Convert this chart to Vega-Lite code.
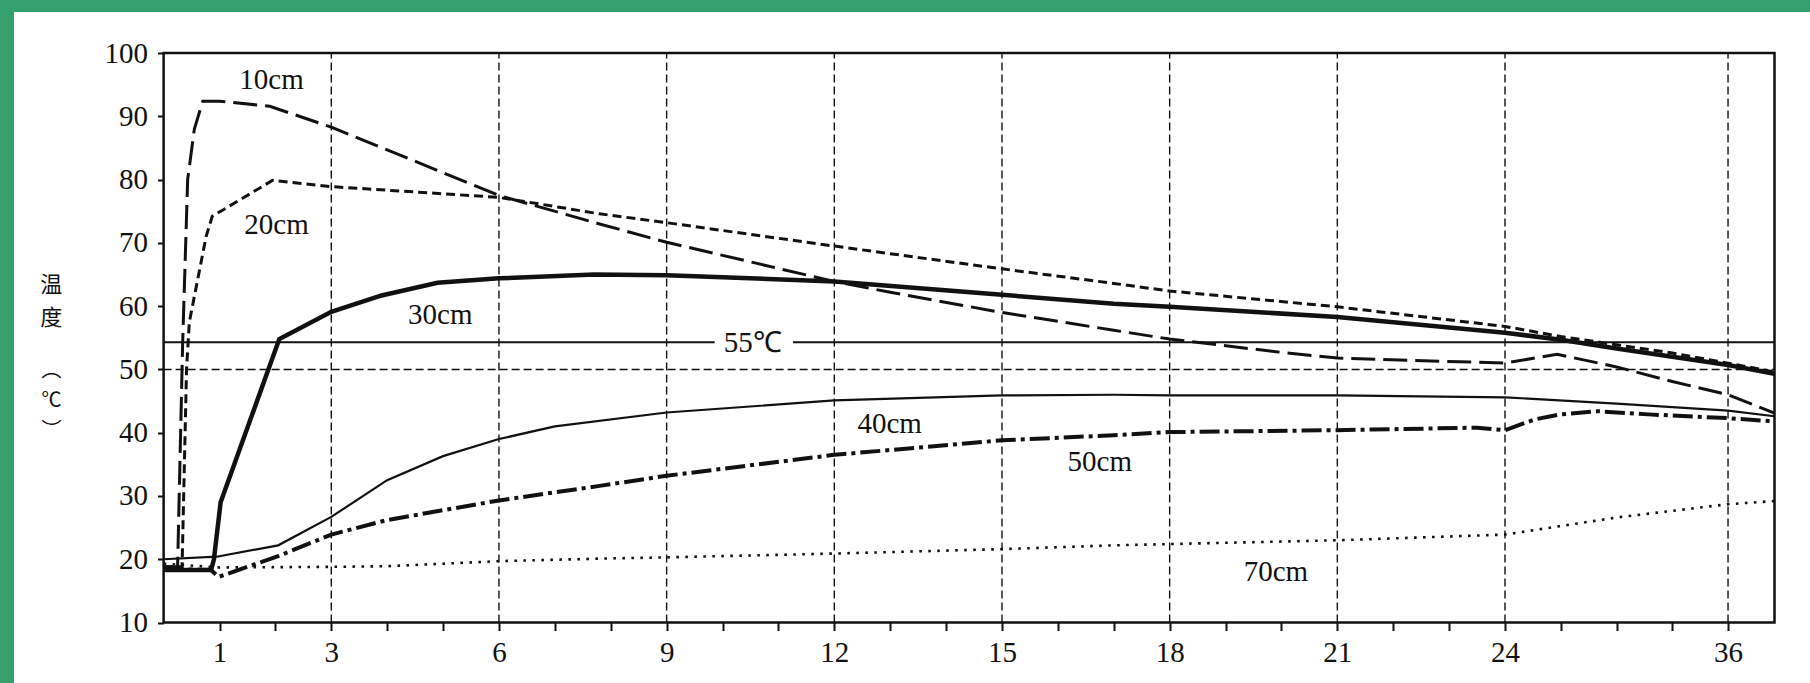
{
  "$schema": "https://vega.github.io/schema/vega-lite/v6.json",
  "width": 1796,
  "height": 671,
  "autosize": {"type": "none"},
  "padding": {"left": 14, "top": 12, "right": 0, "bottom": 0},
  "background": "#35a06c",
  "config": {
    "view": {"fill": "white", "stroke": null},
    "font": "Liberation Serif",
    "axis": {"labelFont": "Liberation Serif", "labelFontSize": 29, "labelColor": "#111", "tickColor": "#111", "tickWidth": 2, "domain": false, "grid": false, "labelFlush": false, "labelOverlap": false},
    "axisX": {"tickSize": 8, "labelPadding": 8},
    "axisY": {"tickSize": 6, "labelPadding": 10}
  },
  "datasets": {
    "curves": [
      {"s": "10cm", "h": 0, "v": 18.8}, {"s": "10cm", "h": 0.25, "v": 18.8}, {"s": "10cm", "h": 0.34, "v": 54}, {"s": "10cm", "h": 0.43, "v": 80}, {"s": "10cm", "h": 0.55, "v": 88}, {"s": "10cm", "h": 0.7, "v": 92.4}, {"s": "10cm", "h": 1.0, "v": 92.4}, {"s": "10cm", "h": 1.9, "v": 91.6}, {"s": "10cm", "h": 3, "v": 88.3}, {"s": "10cm", "h": 6, "v": 77.5}, {"s": "10cm", "h": 7.8, "v": 73.0}, {"s": "10cm", "h": 9, "v": 70.1}, {"s": "10cm", "h": 12, "v": 63.9}, {"s": "10cm", "h": 13, "v": 62.2}, {"s": "10cm", "h": 15, "v": 59.0}, {"s": "10cm", "h": 17, "v": 56.2}, {"s": "10cm", "h": 18, "v": 54.8}, {"s": "10cm", "h": 19.9, "v": 52.8}, {"s": "10cm", "h": 21, "v": 51.8}, {"s": "10cm", "h": 24, "v": 51.0}, {"s": "10cm", "h": 26.8, "v": 52.4}, {"s": "10cm", "h": 30, "v": 50.4}, {"s": "10cm", "h": 33, "v": 48.1}, {"s": "10cm", "h": 36, "v": 46.0}, {"s": "10cm", "h": 38.5, "v": 43.1},
      {"s": "20cm", "h": 0, "v": 18.8}, {"s": "20cm", "h": 0.33, "v": 18.8}, {"s": "20cm", "h": 0.41, "v": 50}, {"s": "20cm", "h": 0.46, "v": 57.5}, {"s": "20cm", "h": 0.76, "v": 71}, {"s": "20cm", "h": 0.87, "v": 74.2}, {"s": "20cm", "h": 1.95, "v": 79.9}, {"s": "20cm", "h": 3, "v": 78.9}, {"s": "20cm", "h": 6, "v": 77.2}, {"s": "20cm", "h": 7.8, "v": 74.6}, {"s": "20cm", "h": 9, "v": 73.2}, {"s": "20cm", "h": 12, "v": 69.5}, {"s": "20cm", "h": 15, "v": 65.9}, {"s": "20cm", "h": 17, "v": 63.6}, {"s": "20cm", "h": 18, "v": 62.4}, {"s": "20cm", "h": 21, "v": 59.9}, {"s": "20cm", "h": 24, "v": 56.8}, {"s": "20cm", "h": 27, "v": 55.2}, {"s": "20cm", "h": 30, "v": 53.9}, {"s": "20cm", "h": 33, "v": 52.6}, {"s": "20cm", "h": 36, "v": 51.0}, {"s": "20cm", "h": 38.5, "v": 49.6},
      {"s": "30cm", "h": 0, "v": 18.3}, {"s": "30cm", "h": 0.85, "v": 18.3}, {"s": "30cm", "h": 0.9, "v": 20}, {"s": "30cm", "h": 1.02, "v": 29}, {"s": "30cm", "h": 2.07, "v": 54.8}, {"s": "30cm", "h": 3, "v": 59.1}, {"s": "30cm", "h": 3.9, "v": 61.7}, {"s": "30cm", "h": 4.9, "v": 63.7}, {"s": "30cm", "h": 6, "v": 64.4}, {"s": "30cm", "h": 7.7, "v": 65.0}, {"s": "30cm", "h": 9, "v": 64.9}, {"s": "30cm", "h": 12, "v": 63.9}, {"s": "30cm", "h": 15, "v": 61.8}, {"s": "30cm", "h": 17, "v": 60.4}, {"s": "30cm", "h": 18, "v": 59.9}, {"s": "30cm", "h": 21, "v": 58.3}, {"s": "30cm", "h": 24, "v": 55.8}, {"s": "30cm", "h": 27, "v": 54.7}, {"s": "30cm", "h": 30, "v": 53.3}, {"s": "30cm", "h": 33, "v": 52.0}, {"s": "30cm", "h": 36, "v": 50.7}, {"s": "30cm", "h": 38.5, "v": 49.3},
      {"s": "40cm", "h": 0, "v": 20.0}, {"s": "40cm", "h": 0.95, "v": 20.4}, {"s": "40cm", "h": 2.05, "v": 22.2}, {"s": "40cm", "h": 3, "v": 26.7}, {"s": "40cm", "h": 4, "v": 32.5}, {"s": "40cm", "h": 5, "v": 36.3}, {"s": "40cm", "h": 6, "v": 39.0}, {"s": "40cm", "h": 7, "v": 41.0}, {"s": "40cm", "h": 9, "v": 43.2}, {"s": "40cm", "h": 12, "v": 45.1}, {"s": "40cm", "h": 15, "v": 45.9}, {"s": "40cm", "h": 17, "v": 46.0}, {"s": "40cm", "h": 18, "v": 45.9}, {"s": "40cm", "h": 21, "v": 45.9}, {"s": "40cm", "h": 24, "v": 45.6}, {"s": "40cm", "h": 30, "v": 44.6}, {"s": "40cm", "h": 36, "v": 43.5}, {"s": "40cm", "h": 38.5, "v": 42.6},
      {"s": "50cm", "h": 0, "v": 18.5}, {"s": "50cm", "h": 0.85, "v": 18.3}, {"s": "50cm", "h": 0.98, "v": 17.2}, {"s": "50cm", "h": 2.05, "v": 20.5}, {"s": "50cm", "h": 3, "v": 23.9}, {"s": "50cm", "h": 4, "v": 26.2}, {"s": "50cm", "h": 6, "v": 29.3}, {"s": "50cm", "h": 7.8, "v": 31.6}, {"s": "50cm", "h": 9, "v": 33.2}, {"s": "50cm", "h": 12, "v": 36.5}, {"s": "50cm", "h": 15, "v": 38.8}, {"s": "50cm", "h": 17, "v": 39.6}, {"s": "50cm", "h": 18, "v": 40.1}, {"s": "50cm", "h": 21, "v": 40.4}, {"s": "50cm", "h": 23.5, "v": 40.8}, {"s": "50cm", "h": 24, "v": 40.4}, {"s": "50cm", "h": 25.6, "v": 42.1}, {"s": "50cm", "h": 27, "v": 42.9}, {"s": "50cm", "h": 29, "v": 43.4}, {"s": "50cm", "h": 31.7, "v": 42.9}, {"s": "50cm", "h": 36, "v": 42.3}, {"s": "50cm", "h": 38.5, "v": 41.8},
      {"s": "70cm", "h": 0, "v": 19.3}, {"s": "70cm", "h": 1, "v": 18.7}, {"s": "70cm", "h": 3, "v": 18.8}, {"s": "70cm", "h": 4, "v": 18.9}, {"s": "70cm", "h": 6, "v": 19.7}, {"s": "70cm", "h": 7.8, "v": 20.1}, {"s": "70cm", "h": 9, "v": 20.3}, {"s": "70cm", "h": 12, "v": 20.9}, {"s": "70cm", "h": 15, "v": 21.6}, {"s": "70cm", "h": 17, "v": 22.2}, {"s": "70cm", "h": 18, "v": 22.4}, {"s": "70cm", "h": 21, "v": 23.0}, {"s": "70cm", "h": 24, "v": 23.9}, {"s": "70cm", "h": 30, "v": 26.6}, {"s": "70cm", "h": 36, "v": 28.7}, {"s": "70cm", "h": 38.5, "v": 29.2}
    ],
    "grid": [{"h": 3}, {"h": 6}, {"h": 9}, {"h": 12}, {"h": 15}, {"h": 18}, {"h": 21}, {"h": 24}, {"h": 36}],
    "labels": [
      {"t": "10cm", "h": 1.93, "v": 95.7},
      {"t": "20cm", "h": 2.02, "v": 72.9},
      {"t": "30cm", "h": 4.95, "v": 58.6},
      {"t": "40cm", "h": 12.99, "v": 41.4},
      {"t": "50cm", "h": 16.75, "v": 35.3},
      {"t": "70cm", "h": 19.9, "v": 18.0},
      {"t": "55℃", "h": 10.54, "v": 54.2}
    ]
  },
  "layer": [
    {
      "data": {"name": "grid"},
      "mark": {"type": "rule", "stroke": "#111", "strokeWidth": 1.4, "strokeDash": [8, 4]},
      "encoding": {
        "x": {"field": "h", "type": "quantitative", "scale": {"domain": [-2.677, 24, 40.41], "range": [0, 1491, 1796], "nice": false, "zero": false}},
        "y": {"datum": 10, "type": "quantitative", "scale": {"domain": [0.44, 106.5], "nice": false, "zero": false}},
        "y2": {"datum": 100}
      }
    },
    {
      "data": {"values": [{"line": "50", "h": 0, "h2": 38.5, "v": 50}]},
      "mark": {"type": "rule", "stroke": "#111", "strokeWidth": 1.4, "strokeDash": [8, 4]},
      "encoding": {
        "x": {"field": "h", "type": "quantitative", "scale": {"domain": [-2.677, 24, 40.41], "range": [0, 1491, 1796], "nice": false, "zero": false}},
        "x2": {"field": "h2"},
        "y": {"field": "v", "type": "quantitative", "scale": {"domain": [0.44, 106.5], "nice": false, "zero": false}}
      }
    },
    {
      "data": {"values": [{"line": "55", "h": 0, "h2": 9.86, "v": 54.3}, {"line": "55", "h": 11.26, "h2": 38.5, "v": 54.3}]},
      "mark": {"type": "rule", "stroke": "#111", "strokeWidth": 1.8},
      "encoding": {
        "x": {"field": "h", "type": "quantitative", "scale": {"domain": [-2.677, 24, 40.41], "range": [0, 1491, 1796], "nice": false, "zero": false}},
        "x2": {"field": "h2"},
        "y": {"field": "v", "type": "quantitative", "scale": {"domain": [0.44, 106.5], "nice": false, "zero": false}}
      }
    },
    {
      "data": {"name": "curves"},
      "transform": [{"filter": "datum.s === '10cm'"}],
      "mark": {"type": "line", "stroke": "#111", "strokeWidth": 3, "strokeDash": [24, 8]},
      "encoding": {
        "x": {
          "field": "h", "type": "quantitative",
          "scale": {"domain": [-2.677, 24, 40.41], "range": [0, 1491, 1796], "nice": false, "zero": false},
          "axis": {
            "orient": "bottom", "offset": -60.5,
            "values": [1, 2, 3, 4, 5, 6, 7, 8, 9, 10, 11, 12, 13, 14, 15, 16, 17, 18, 19, 20, 21, 22, 23, 24, 27, 30, 33, 36],
            "labelExpr": "indexof([1,3,6,9,12,15,18,21,24,36], datum.value) >= 0 ? datum.label : ''",
            "title": ["︵", "℃", "︶"],
            "titleAngle": 0, "titleX": 37, "titleY": -262.5, "titleAlign": "center", "titleBaseline": "top",
            "titleFont": "Noto Sans CJK SC", "titleFontSize": 20, "titleFontWeight": "normal", "titleColor": "#111", "titleLineHeight": 30
          }
        },
        "y": {
          "field": "v", "type": "quantitative",
          "scale": {"domain": [0.44, 106.5], "nice": false, "zero": false},
          "axis": {
            "orient": "left", "offset": -149.5,
            "values": [10, 20, 30, 40, 50, 60, 70, 80, 90, 100],
            "title": ["温", "度"],
            "titleAngle": 0, "titleX": -112.7, "titleY": 262, "titleAlign": "center", "titleBaseline": "top",
            "titleFont": "Noto Sans CJK SC", "titleFontSize": 22, "titleFontWeight": "normal", "titleColor": "#111", "titleLineHeight": 33
          }
        }
      }
    },
    {
      "data": {"name": "curves"},
      "transform": [{"filter": "datum.s === '20cm'"}],
      "mark": {"type": "line", "stroke": "#111", "strokeWidth": 3, "strokeDash": [9, 5]},
      "encoding": {
        "x": {"field": "h", "type": "quantitative", "scale": {"domain": [-2.677, 24, 40.41], "range": [0, 1491, 1796], "nice": false, "zero": false}},
        "y": {"field": "v", "type": "quantitative", "scale": {"domain": [0.44, 106.5], "nice": false, "zero": false}}
      }
    },
    {
      "data": {"name": "curves"},
      "transform": [{"filter": "datum.s === '30cm'"}],
      "mark": {"type": "line", "stroke": "#111", "strokeWidth": 4.5},
      "encoding": {
        "x": {"field": "h", "type": "quantitative", "scale": {"domain": [-2.677, 24, 40.41], "range": [0, 1491, 1796], "nice": false, "zero": false}},
        "y": {"field": "v", "type": "quantitative", "scale": {"domain": [0.44, 106.5], "nice": false, "zero": false}}
      }
    },
    {
      "data": {"name": "curves"},
      "transform": [{"filter": "datum.s === '40cm'"}],
      "mark": {"type": "line", "stroke": "#111", "strokeWidth": 2.2},
      "encoding": {
        "x": {"field": "h", "type": "quantitative", "scale": {"domain": [-2.677, 24, 40.41], "range": [0, 1491, 1796], "nice": false, "zero": false}},
        "y": {"field": "v", "type": "quantitative", "scale": {"domain": [0.44, 106.5], "nice": false, "zero": false}}
      }
    },
    {
      "data": {"name": "curves"},
      "transform": [{"filter": "datum.s === '50cm'"}],
      "mark": {"type": "line", "stroke": "#111", "strokeWidth": 4, "strokeDash": [20, 5, 4, 5]},
      "encoding": {
        "x": {"field": "h", "type": "quantitative", "scale": {"domain": [-2.677, 24, 40.41], "range": [0, 1491, 1796], "nice": false, "zero": false}},
        "y": {"field": "v", "type": "quantitative", "scale": {"domain": [0.44, 106.5], "nice": false, "zero": false}}
      }
    },
    {
      "data": {"name": "curves"},
      "transform": [{"filter": "datum.s === '70cm'"}],
      "mark": {"type": "line", "stroke": "#111", "strokeWidth": 2.6, "strokeDash": [2.6, 6.4]},
      "encoding": {
        "x": {"field": "h", "type": "quantitative", "scale": {"domain": [-2.677, 24, 40.41], "range": [0, 1491, 1796], "nice": false, "zero": false}},
        "y": {"field": "v", "type": "quantitative", "scale": {"domain": [0.44, 106.5], "nice": false, "zero": false}}
      }
    },
    {
      "data": {"values": [{"box": "plot"}]},
      "mark": {"type": "rect", "fillOpacity": 0, "stroke": "#111", "strokeWidth": 2.5},
      "encoding": {
        "x": {"datum": 0, "type": "quantitative", "scale": {"domain": [-2.677, 24, 40.41], "range": [0, 1491, 1796], "nice": false, "zero": false}},
        "x2": {"datum": 38.5},
        "y": {"datum": 10, "type": "quantitative", "scale": {"domain": [0.44, 106.5], "nice": false, "zero": false}},
        "y2": {"datum": 100}
      }
    },
    {
      "data": {"name": "labels"},
      "mark": {"type": "text", "font": "Liberation Serif", "fontSize": 29, "color": "#111", "align": "center", "baseline": "middle"},
      "encoding": {
        "x": {"field": "h", "type": "quantitative", "scale": {"domain": [-2.677, 24, 40.41], "range": [0, 1491, 1796], "nice": false, "zero": false}},
        "y": {"field": "v", "type": "quantitative", "scale": {"domain": [0.44, 106.5], "nice": false, "zero": false}},
        "text": {"field": "t"}
      }
    }
  ]
}
